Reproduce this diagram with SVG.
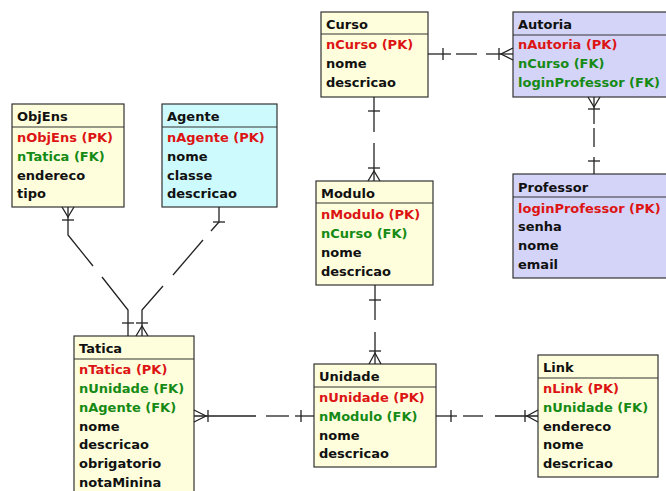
<svg xmlns="http://www.w3.org/2000/svg" width="666" height="491" viewBox="0 0 666 491">
<style>
  .bg { fill: #ffffff; }
  .box { stroke: #333333; stroke-width: 1.2; }
  .yel { fill: #fefedc; }
  .cya { fill: #cdfafd; }
  .lav { fill: #d4d4f8; }
  .div { stroke: #333333; stroke-width: 1.2; fill: none; }
  text { font-family: "DejaVu Sans", Verdana, sans-serif; font-weight: bold; font-size: 13px; fill: #111111; }
  .pk { fill: #dd1414; }
  .fk { fill: #158a15; }
  .conn line, .conn polyline { stroke: #222222; stroke-width: 1.3; fill: none; }
</style>
<rect class="bg" x="0" y="0" width="666" height="491"/>

<g id="curso">
  <rect class="box yel" x="321" y="12" width="107" height="85"/>
  <line class="div" x1="321" y1="34" x2="428" y2="34"/>
  <text x="326" y="29">Curso</text>
  <text class="pk" x="326" y="49">nCurso (PK)</text>
  <text x="326" y="68">nome</text>
  <text x="326" y="87">descricao</text>
</g>

<g id="autoria">
  <rect class="box lav" x="513" y="12" width="160" height="85"/>
  <line class="div" x1="513" y1="35" x2="673" y2="35"/>
  <text x="518" y="29">Autoria</text>
  <text class="pk" x="518" y="49">nAutoria (PK)</text>
  <text class="fk" x="518" y="68">nCurso (FK)</text>
  <text class="fk" x="518" y="87">loginProfessor (FK)</text>
</g>

<g id="objens">
  <rect class="box yel" x="12" y="104" width="112" height="103"/>
  <line class="div" x1="12" y1="127" x2="124" y2="127"/>
  <text x="17" y="121">ObjEns</text>
  <text class="pk" x="17" y="142">nObjEns (PK)</text>
  <text class="fk" x="17" y="161">nTatica (FK)</text>
  <text x="17" y="180">endereco</text>
  <text x="17" y="198">tipo</text>
</g>

<g id="agente">
  <rect class="box cya" x="162" y="104" width="115" height="103"/>
  <line class="div" x1="162" y1="127" x2="277" y2="127"/>
  <text x="167" y="121">Agente</text>
  <text class="pk" x="167" y="142">nAgente (PK)</text>
  <text x="167" y="161">nome</text>
  <text x="167" y="180">classe</text>
  <text x="167" y="198">descricao</text>
</g>

<g id="modulo">
  <rect class="box yel" x="316" y="181" width="117" height="104"/>
  <line class="div" x1="316" y1="203" x2="433" y2="203"/>
  <text x="321" y="198">Modulo</text>
  <text class="pk" x="321" y="219">nModulo (PK)</text>
  <text class="fk" x="321" y="238">nCurso (FK)</text>
  <text x="321" y="257">nome</text>
  <text x="321" y="276">descricao</text>
</g>

<g id="professor">
  <rect class="box lav" x="513" y="174" width="160" height="104"/>
  <line class="div" x1="513" y1="197" x2="673" y2="197"/>
  <text x="518" y="192">Professor</text>
  <text class="pk" x="518" y="213">loginProfessor (PK)</text>
  <text x="518" y="231">senha</text>
  <text x="518" y="250">nome</text>
  <text x="518" y="269">email</text>
</g>

<g id="tatica">
  <rect class="box yel" x="74" y="336" width="120" height="165"/>
  <line class="div" x1="74" y1="359" x2="194" y2="359"/>
  <text x="79" y="353">Tatica</text>
  <text class="pk" x="79" y="374">nTatica (PK)</text>
  <text class="fk" x="79" y="393">nUnidade (FK)</text>
  <text class="fk" x="79" y="412">nAgente (FK)</text>
  <text x="79" y="431">nome</text>
  <text x="79" y="449">descricao</text>
  <text x="79" y="468">obrigatorio</text>
  <text x="79" y="487">notaMinina</text>
</g>

<g id="unidade">
  <rect class="box yel" x="314" y="364" width="122" height="103"/>
  <line class="div" x1="314" y1="387" x2="436" y2="387"/>
  <text x="319" y="381">Unidade</text>
  <text class="pk" x="319" y="402">nUnidade (PK)</text>
  <text class="fk" x="319" y="421">nModulo (FK)</text>
  <text x="319" y="440">nome</text>
  <text x="319" y="458">descricao</text>
</g>

<g id="link">
  <rect class="box yel" x="538" y="355" width="120" height="122"/>
  <line class="div" x1="538" y1="378" x2="658" y2="378"/>
  <text x="543" y="372">Link</text>
  <text class="pk" x="543" y="393">nLink (PK)</text>
  <text class="fk" x="543" y="412">nUnidade (FK)</text>
  <text x="543" y="431">endereco</text>
  <text x="543" y="449">nome</text>
  <text x="543" y="468">descricao</text>
</g>

<g id="connectors" class="conn">
  <!-- Curso - Autoria -->
  <line x1="428" y1="54" x2="451" y2="54"/>
  <line x1="456" y1="54" x2="477" y2="54"/>
  <line x1="486" y1="54" x2="513" y2="54"/>
  <line x1="443" y1="48" x2="443" y2="60"/>
  <line x1="499" y1="48" x2="499" y2="60"/>
  <polyline points="513,48 501,54 513,60"/>

  <!-- Curso - Modulo -->
  <line x1="374" y1="97" x2="374" y2="132"/>
  <line x1="374" y1="143" x2="374" y2="181"/>
  <line x1="368" y1="111" x2="380" y2="111"/>
  <line x1="368" y1="168" x2="380" y2="168"/>
  <polyline points="368,181 374,171 380,181"/>

  <!-- Autoria - Professor -->
  <polyline points="588,97 594,107 600,97"/>
  <line x1="588" y1="109" x2="600" y2="109"/>
  <line x1="594" y1="97" x2="594" y2="124"/>
  <line x1="594" y1="128" x2="594" y2="147"/>
  <line x1="594" y1="157" x2="594" y2="174"/>
  <line x1="588" y1="161" x2="600" y2="161"/>

  <!-- Modulo - Unidade -->
  <line x1="375" y1="285" x2="375" y2="320"/>
  <line x1="375" y1="332" x2="375" y2="364"/>
  <line x1="369" y1="300" x2="381" y2="300"/>
  <line x1="369" y1="351" x2="381" y2="351"/>
  <polyline points="369,364 375,353 381,364"/>

  <!-- Tatica - Unidade -->
  <polyline points="194,410 206,416 194,422"/>
  <line x1="208" y1="410" x2="208" y2="422"/>
  <line x1="194" y1="416" x2="256" y2="416"/>
  <line x1="266" y1="416" x2="289" y2="416"/>
  <line x1="295" y1="416" x2="314" y2="416"/>
  <line x1="301" y1="410" x2="301" y2="422"/>

  <!-- Unidade - Link -->
  <line x1="436" y1="416" x2="457" y2="416"/>
  <line x1="463" y1="416" x2="483" y2="416"/>
  <line x1="495" y1="416" x2="538" y2="416"/>
  <line x1="451" y1="410" x2="451" y2="422"/>
  <line x1="525" y1="410" x2="525" y2="422"/>
  <polyline points="538,410 527,416 538,422"/>

  <!-- ObjEns - Tatica -->
  <polyline points="62,207 68,217 74,207"/>
  <line x1="62" y1="220" x2="74" y2="220"/>
  <polyline points="68,207 68,235 93,266"/>
  <polyline points="102,277 128,310 128,336"/>
  <line x1="122" y1="323" x2="134" y2="323"/>

  <!-- Agente - Tatica -->
  <polyline points="219,207 219,222 211,231"/>
  <line x1="213" y1="222" x2="225" y2="222"/>
  <line x1="203" y1="240" x2="173" y2="275"/>
  <polyline points="163,286 142,310 142,336"/>
  <line x1="136" y1="323" x2="148" y2="323"/>
  <polyline points="136,336 142,326 148,336"/>
</g>
</svg>
